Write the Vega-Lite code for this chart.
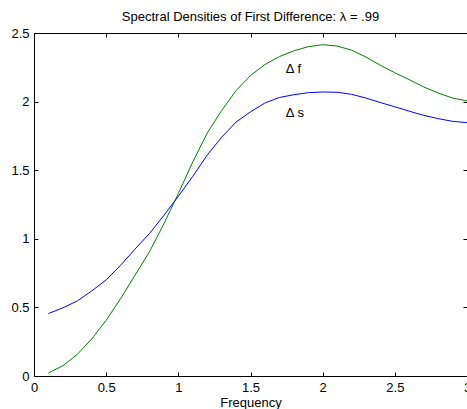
{
  "$schema": "https://vega.github.io/schema/vega-lite/v6.json",
  "width": 433,
  "height": 343,
  "autosize": {"type": "none"},
  "padding": {"left": 34, "top": 33, "right": 0, "bottom": 33},
  "background": "white",
  "config": {
    "font": "Liberation Sans",
    "view": {"stroke": null},
    "axis": {
      "grid": false,
      "domainColor": "black",
      "domainWidth": 1,
      "tickColor": "black",
      "tickSize": -4,
      "labelColor": "black",
      "labelFontSize": 13,
      "titleColor": "black",
      "titleFontSize": 13,
      "titleFontWeight": "normal",
      "labelFlush": false,
      "labelOverlap": false,
      "format": ".1~f"
    }
  },
  "title": {
    "text": "Spectral Densities of First Difference: λ = .99",
    "fontSize": 13,
    "fontWeight": "normal",
    "color": "black",
    "offset": 9,
    "dy": 6,
    "anchor": "middle"
  },
  "datasets": {
    "curves": [
      {"freq": 0.1, "series": "f", "density": 0.022},
      {"freq": 0.2, "series": "f", "density": 0.075},
      {"freq": 0.3, "series": "f", "density": 0.158},
      {"freq": 0.4, "series": "f", "density": 0.27},
      {"freq": 0.5, "series": "f", "density": 0.406},
      {"freq": 0.6, "series": "f", "density": 0.564},
      {"freq": 0.7, "series": "f", "density": 0.735},
      {"freq": 0.8, "series": "f", "density": 0.905},
      {"freq": 0.9, "series": "f", "density": 1.11},
      {"freq": 1.0, "series": "f", "density": 1.33},
      {"freq": 1.1, "series": "f", "density": 1.56},
      {"freq": 1.2, "series": "f", "density": 1.77},
      {"freq": 1.3, "series": "f", "density": 1.935},
      {"freq": 1.4, "series": "f", "density": 2.08},
      {"freq": 1.5, "series": "f", "density": 2.19},
      {"freq": 1.6, "series": "f", "density": 2.27},
      {"freq": 1.7, "series": "f", "density": 2.328},
      {"freq": 1.8, "series": "f", "density": 2.37},
      {"freq": 1.9, "series": "f", "density": 2.40},
      {"freq": 2.0, "series": "f", "density": 2.415},
      {"freq": 2.1, "series": "f", "density": 2.405},
      {"freq": 2.2, "series": "f", "density": 2.375},
      {"freq": 2.3, "series": "f", "density": 2.325},
      {"freq": 2.4, "series": "f", "density": 2.265},
      {"freq": 2.5, "series": "f", "density": 2.21},
      {"freq": 2.6, "series": "f", "density": 2.16},
      {"freq": 2.7, "series": "f", "density": 2.107},
      {"freq": 2.8, "series": "f", "density": 2.063},
      {"freq": 2.9, "series": "f", "density": 2.026},
      {"freq": 3.0, "series": "f", "density": 2.005},
      {"freq": 0.1, "series": "s", "density": 0.455},
      {"freq": 0.2, "series": "s", "density": 0.497},
      {"freq": 0.3, "series": "s", "density": 0.547},
      {"freq": 0.4, "series": "s", "density": 0.62},
      {"freq": 0.5, "series": "s", "density": 0.70},
      {"freq": 0.6, "series": "s", "density": 0.807},
      {"freq": 0.7, "series": "s", "density": 0.925},
      {"freq": 0.8, "series": "s", "density": 1.038},
      {"freq": 0.9, "series": "s", "density": 1.171},
      {"freq": 1.0, "series": "s", "density": 1.31},
      {"freq": 1.1, "series": "s", "density": 1.455},
      {"freq": 1.2, "series": "s", "density": 1.61},
      {"freq": 1.3, "series": "s", "density": 1.74},
      {"freq": 1.4, "series": "s", "density": 1.851},
      {"freq": 1.5, "series": "s", "density": 1.925},
      {"freq": 1.6, "series": "s", "density": 1.99},
      {"freq": 1.7, "series": "s", "density": 2.03},
      {"freq": 1.8, "series": "s", "density": 2.05},
      {"freq": 1.9, "series": "s", "density": 2.065},
      {"freq": 2.0, "series": "s", "density": 2.07},
      {"freq": 2.1, "series": "s", "density": 2.068},
      {"freq": 2.2, "series": "s", "density": 2.053},
      {"freq": 2.3, "series": "s", "density": 2.026},
      {"freq": 2.4, "series": "s", "density": 1.993},
      {"freq": 2.5, "series": "s", "density": 1.962},
      {"freq": 2.6, "series": "s", "density": 1.93},
      {"freq": 2.7, "series": "s", "density": 1.90},
      {"freq": 2.8, "series": "s", "density": 1.876},
      {"freq": 2.9, "series": "s", "density": 1.856},
      {"freq": 3.0, "series": "s", "density": 1.847}
    ],
    "labels": [
      {"freq": 1.745, "density": 2.24, "label": "Δ f"},
      {"freq": 1.745, "density": 1.915, "label": "Δ s"}
    ]
  },
  "layer": [
    {
      "data": {"name": "curves"},
      "mark": {"type": "line", "strokeWidth": 1, "clip": true},
      "encoding": {
        "x": {
          "field": "freq",
          "type": "quantitative",
          "scale": {"domain": [0, 3], "nice": false, "zero": false},
          "axis": {"orient": "bottom", "title": "Frequency", "values": [0, 0.5, 1, 1.5, 2, 2.5, 3], "labelPadding": 9, "titlePadding": 2}
        },
        "y": {
          "field": "density",
          "type": "quantitative",
          "scale": {"domain": [0, 2.5], "nice": false},
          "axis": {"orient": "left", "title": null, "values": [0, 0.5, 1, 1.5, 2, 2.5], "labelPadding": 9}
        },
        "color": {
          "field": "series",
          "type": "nominal",
          "scale": {"domain": ["f", "s"], "range": ["#008000", "#0000ff"]},
          "legend": null
        }
      }
    },
    {
      "data": {"name": "labels"},
      "mark": {"type": "text", "align": "left", "baseline": "middle", "fontSize": 13, "color": "black"},
      "encoding": {
        "x": {
          "field": "freq",
          "type": "quantitative",
          "axis": {"orient": "top", "title": null, "labels": false, "values": [0, 0.5, 1, 1.5, 2, 2.5, 3]}
        },
        "y": {
          "field": "density",
          "type": "quantitative",
          "axis": {"orient": "right", "title": null, "labels": false, "values": [0, 0.5, 1, 1.5, 2, 2.5]}
        },
        "text": {"field": "label"}
      }
    }
  ],
  "resolve": {"axis": {"x": "independent", "y": "independent"}}
}
